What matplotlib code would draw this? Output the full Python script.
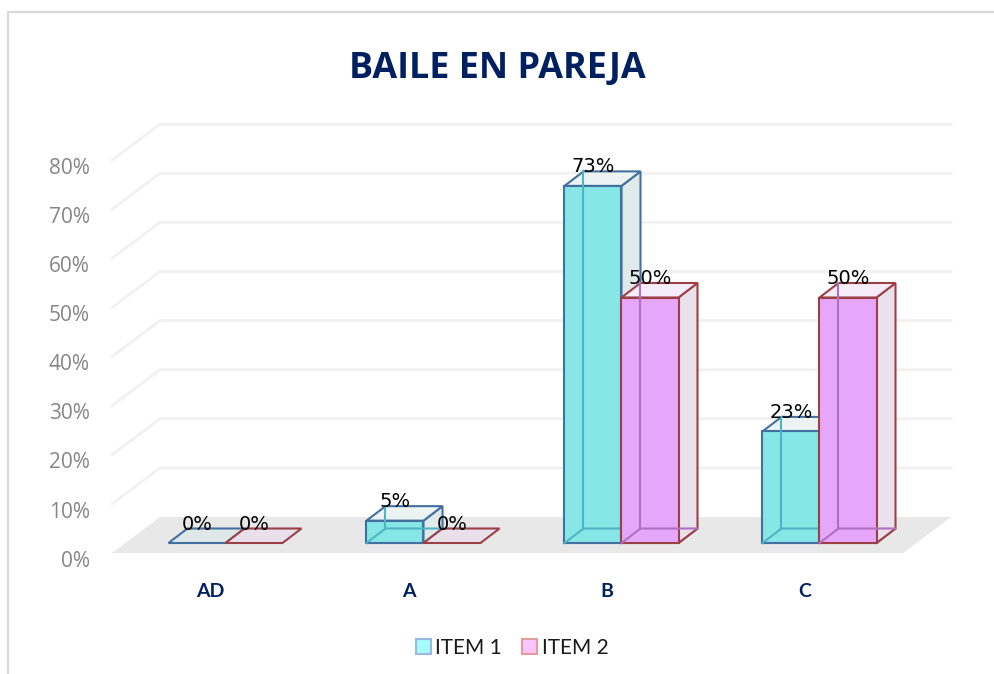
import matplotlib
matplotlib.use("Agg")
import matplotlib.pyplot as plt
from matplotlib.lines import Line2D
from matplotlib.patches import Polygon, Patch

categories = ["AD", "A", "B", "C"]
item1 = [0, 4.55, 72.73, 22.73]
item2 = [0, 0, 50, 50]
series_names = ["ITEM 1", "ITEM 2"]
y_ticks = [0, 10, 20, 30, 40, 50, 60, 70, 80]

W, H = 995, 674
PX_X = 198.0        # px per category
PX_V = 4.91         # px per percentage point
X0, V0 = 225.5, 543 # pixel of category 0 boundary / zero on the bar front plane
L, R, B, T = 112, 903, 575, 100
FLOOR_PX = 553

fig = plt.figure(figsize=(W / 100, H / 100), dpi=100, facecolor="white")
ax = fig.add_axes([L / W, 1 - B / H, (R - L) / W, (B - T) / H])
XLIM = ((L - X0) / PX_X, (R - X0) / PX_X)
YLIM = ((V0 - B) / PX_V, (V0 - T) / PX_V)
ax.patch.set_visible(False)
for s in ax.spines.values():
    s.set_visible(False)

BW = 57 / PX_X
BDX, BDV = 19 / PX_X, 14.5 / PX_V
WDX, WDV = 48 / PX_X, 36 / PX_V
x_left, x_right = XLIM
y_floor = (V0 - FLOOR_PX) / PX_V

# floor
ax.add_patch(Polygon([(x_left, y_floor), (x_right, y_floor),
                      (x_right + WDX, y_floor + WDV), (x_left + WDX, y_floor + WDV)],
                     closed=True, fc="#e8e8e8", ec="none", clip_on=False, zorder=1))
# gridlines on side and back walls
for t in y_ticks[1:]:
    v = y_floor + t
    ax.plot([x_left, x_left + WDX, x_right + WDX], [v, v + WDV, v + WDV],
            color="#f1f1f1", lw=2.0, clip_on=False, zorder=1, solid_joinstyle="miter")

styles = [
    dict(front="#87e7e7", side="#e0eaea", top="#ecf3f3", base="#dfe8e8", edge="#44709f", inner="#4fb5c5"),
    dict(front="#e6a6f9", side="#e9e2ec", top="#f4edf9", base="#e9e0ec", edge="#9c4048", inner="#b070c0"),
]

def draw_bar(x, val, st, z):
    y0, y1 = 0, val
    d = BW
    kw = dict(closed=True, clip_on=False, zorder=z, lw=1.5, joinstyle="miter")
    # floor, side and top faces
    ax.add_patch(Polygon([(x, y0), (x + d, y0), (x + d + BDX, y0 + BDV), (x + BDX, y0 + BDV)],
                         fc=st["base"], ec=st["edge"], **kw))
    if val > 0:
        ax.add_patch(Polygon([(x + d, y0), (x + d + BDX, y0 + BDV), (x + d + BDX, y1 + BDV), (x + d, y1)],
                             fc=st["side"], ec=st["edge"], **kw))
        ax.add_patch(Polygon([(x, y1), (x + d, y1), (x + d + BDX, y1 + BDV), (x + BDX, y1 + BDV)],
                             fc=st["top"], ec=st["edge"], **kw))
        ax.add_patch(Polygon([(x, y0), (x + d, y0), (x + d, y1), (x, y1)],
                             fc=st["front"], ec=st["edge"], **kw))
        # hidden edges seen through the translucent front
        ax.plot([x + BDX, x + BDX], [y0 + BDV, y1 + BDV], color=st["inner"], lw=1.5,
                clip_on=False, zorder=z + 0.1)
        ax.plot([x, x + BDX, x + d + BDX], [y0, y0 + BDV, y0 + BDV], color=st["inner"], lw=1.5,
                clip_on=False, zorder=z + 0.1)

for i, cat in enumerate(categories):
    draw_bar(i - BW, item1[i], styles[0], 3)
    draw_bar(i, item2[i], styles[1], 4)

for i in range(len(categories)):
    for val, off in ((item1[i], -BW), (item2[i], 0)):
        ax.text(i + off + BW / 2, val + 19 / PX_V, f"{val:.0f}%", ha="center", va="center",
                fontsize=14, color="black", family="DejaVu Sans", zorder=6, clip_on=False)

# axis labels
ax.set_xticks([i - 0.075 for i in range(len(categories))])
ax.set_xticklabels(categories, fontsize=14, fontweight="bold", color="#002060", family="Lato")
ax.tick_params(axis="x", length=0, pad=5.5)
ax.set_yticks([t + y_floor - 1.15 for t in y_ticks])
ax.set_yticklabels([f"{t}%" for t in y_ticks], fontsize=15, color="#868686", family="Open Sans")
ax.tick_params(axis="y", length=0, pad=16)
ax.set_xlim(*XLIM)
ax.set_ylim(*YLIM)

fig.text(497 / W, 1 - 69 / H, "BAILE EN PAREJA", ha="center", va="center",
         fontsize=25.8, fontweight="bold", color="#002060", family="Open Sans")

handles = [Patch(fc="#a6fbfb", ec="#9bb8e0", lw=1.5), Patch(fc="#fcc4fc", ec="#e39c9c", lw=1.5)]
ax.legend(handles, series_names, loc="center", bbox_to_anchor=(512 / W, 1 - 648 / H),
          bbox_transform=fig.transFigure, ncol=2, frameon=False, handlelength=0.72, handleheight=0.72,
          handletextpad=0.2, columnspacing=1.0, prop=dict(family="Lato", size=15), labelcolor="#1a1a1a")

# outer frame
fig.add_artist(Line2D([8 / W, 8 / W, 1], [0, 1 - 11.5 / H, 1 - 11.5 / H],
                      color="#d9d9d9", lw=1.6, transform=fig.transFigure))

fig.savefig("out.png", dpi=100)
